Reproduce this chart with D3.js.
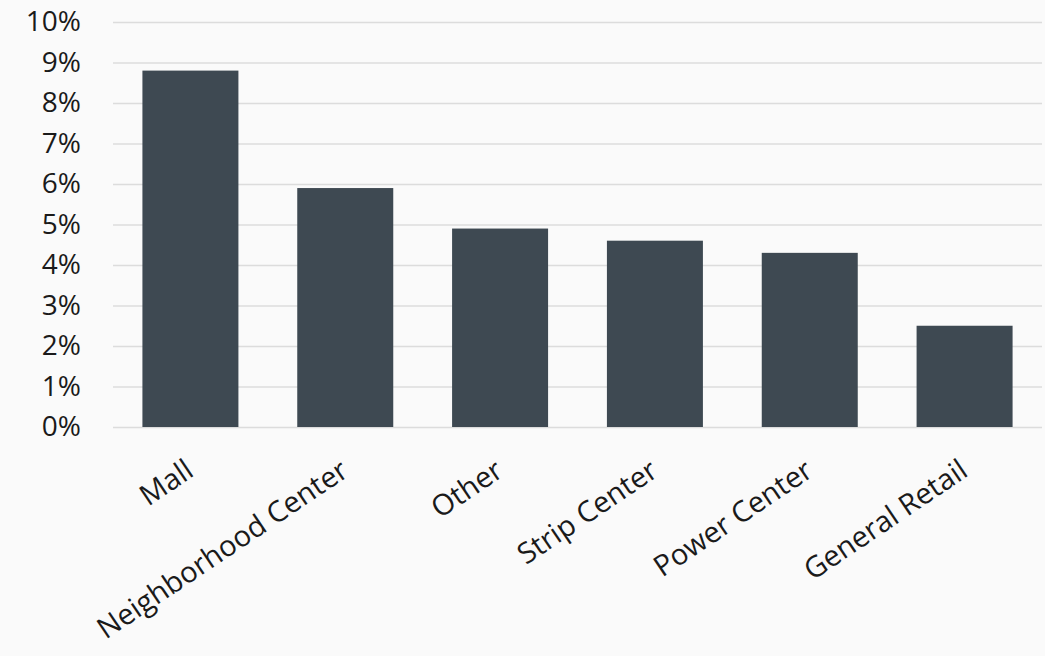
<!DOCTYPE html>
<html>
<head>
<meta charset="utf-8">
<script src="https://cdn.jsdelivr.net/npm/d3@7"></script>
<style>
  body { margin: 0; background: #fafafa; }
  svg { display: block; font-family: "Open Sans", sans-serif; }
  .grid line { stroke: #dcdcdc; stroke-width: 1.5; }
  .axis text { fill: #1a1a1a; font-size: 28px; }
  .x-axis text { font-size: 29px; }
</style>
</head>
<body>
<svg id="chart"></svg>
<script>
// Retail property types and their values (percent)
const categories = ['Mall', 'Neighborhood Center', 'Other', 'Strip Center', 'Power Center', 'General Retail'];
const values = [8.8, 5.9, 4.9, 4.6, 4.3, 2.5];
const yTicks = [0, 1, 2, 3, 4, 5, 6, 7, 8, 9, 10];

const config = {
  containerWidth: 1045,
  containerHeight: 656,
  margin: { top: 22, right: 3, bottom: 229, left: 113 }
};
config.width = config.containerWidth - config.margin.left - config.margin.right;
config.height = config.containerHeight - config.margin.top - config.margin.bottom;

const data = categories.map((c, i) => ({ category: c, value: values[i] }));

const svg = d3.select('#chart')
  .attr('width', config.containerWidth)
  .attr('height', config.containerHeight);

const chartArea = svg.append('g')
  .attr('transform', `translate(${config.margin.left},${config.margin.top})`);

// Scales
const xScale = d3.scaleBand()
  .domain(categories)
  .range([0, config.width])
  .paddingInner(0.38)
  .paddingOuter(0.19);

const yScale = d3.scaleLinear()
  .domain([0, 10])
  .range([config.height, 0]);

// Grid lines
chartArea.append('g')
  .attr('class', 'grid')
  .call(d3.axisLeft(yScale).tickValues(yTicks).tickSize(-config.width).tickFormat(''))
  .call(g => g.select('.domain').remove());

// Y axis labels
chartArea.append('g')
  .attr('class', 'axis y-axis')
  .call(d3.axisLeft(yScale).tickValues(yTicks).tickSize(0).tickPadding(32).tickFormat(d => d + '%'))
  .attr('font-family', null)
  .attr('font-size', null)
  .call(g => g.select('.domain').remove());

// Bars
chartArea.selectAll('.bar')
  .data(data)
  .join('rect')
  .attr('class', 'bar')
  .attr('x', d => xScale(d.category))
  .attr('y', d => yScale(d.value))
  .attr('width', xScale.bandwidth())
  .attr('height', d => config.height - yScale(d.value))
  .attr('fill', '#3e4952');

// X axis labels, rotated
chartArea.append('g')
  .attr('class', 'axis x-axis')
  .attr('transform', `translate(0,${config.height})`)
  .call(d3.axisBottom(xScale).tickSize(0))
  .attr('font-family', null)
  .attr('font-size', null)
  .call(g => g.select('.domain').remove())
  .selectAll('text')
  .attr('x', 0)
  .attr('y', 0)
  .attr('dy', 0)
  .attr('text-anchor', 'end')
  .attr('transform', 'translate(5,48) rotate(-34)');
</script>
</body>
</html>
